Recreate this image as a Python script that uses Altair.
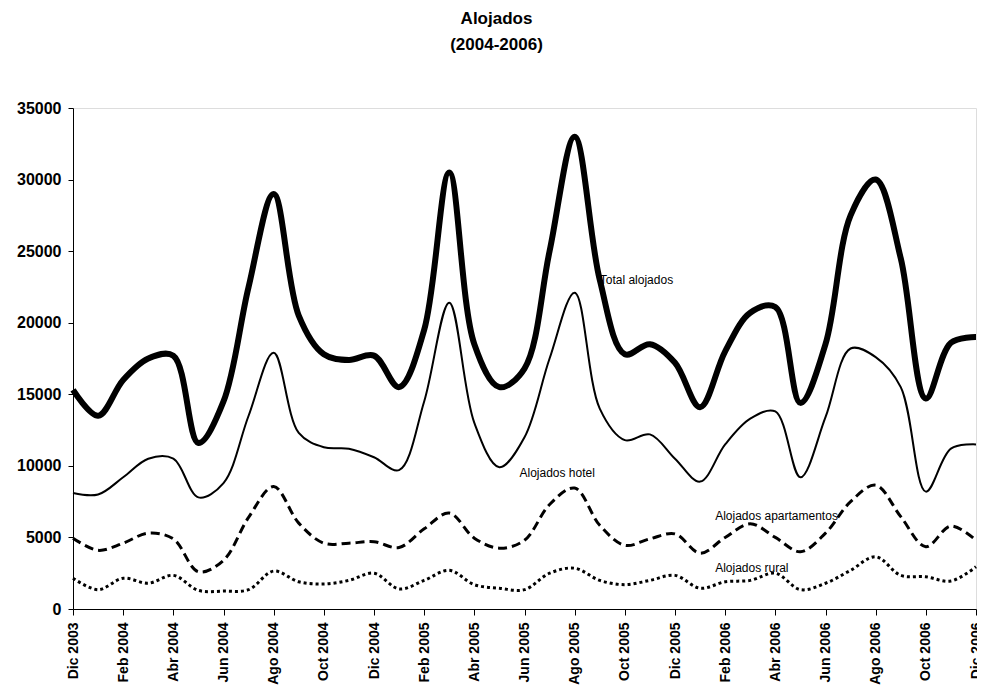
import json
import altair as alt
import pandas as pd

# Month labels (Dic 2003 .. Dic 2006)
months = [
    "Dic 2003", "Ene 2004", "Feb 2004", "Mar 2004", "Abr 2004", "May 2004", "Jun 2004",
    "Jul 2004", "Ago 2004", "Sep 2004", "Oct 2004", "Nov 2004", "Dic 2004",
    "Ene 2005", "Feb 2005", "Mar 2005", "Abr 2005", "May 2005", "Jun 2005",
    "Jul 2005", "Ago 2005", "Sep 2005", "Oct 2005", "Nov 2005", "Dic 2005",
    "Ene 2006", "Feb 2006", "Mar 2006", "Abr 2006", "May 2006", "Jun 2006",
    "Jul 2006", "Ago 2006", "Sep 2006", "Oct 2006", "Nov 2006", "Dic 2006",
]

total = [15300, 13500, 16000, 17500, 17700, 11600, 14500, 22500, 29000, 20500,
         17800, 17400, 17700, 15500, 19500, 30500, 18500, 15500, 16800, 25000,
         33000, 23000, 17800, 18500, 17200, 14100, 18000, 20700, 21100, 14400,
         18500, 27500, 30000, 24500, 14700, 18600, 19000]

hotel = [8100, 8000, 9200, 10500, 10500, 7800, 8800, 13500, 17900, 12300,
         11300, 11200, 10600, 9700, 14500, 21400, 13000, 9900, 12000, 17500,
         22100, 14000, 11800, 12200, 10500, 8900, 11500, 13300, 13800, 9200,
         13400, 18200, 17600, 15500, 8200, 11200, 11500]

apart = [4950, 4100, 4600, 5300, 4900, 2600, 3400, 6400, 8550, 6000,
         4600, 4600, 4700, 4300, 5600, 6700, 4950, 4250, 4800, 7300,
         8450, 5850, 4450, 4900, 5250, 3900, 5000, 5950, 5000, 4000,
         5300, 7500, 8650, 6450, 4350, 5800, 4800]

rural = [2150, 1350, 2150, 1800, 2350, 1300, 1250, 1350, 2650, 1900,
         1750, 2000, 2500, 1400, 2000, 2700, 1700, 1450, 1350, 2500,
         2850, 2000, 1700, 2000, 2350, 1450, 1900, 2000, 2500, 1350,
         1800, 2700, 3650, 2350, 2250, 1950, 2950]

series_names = ["Total alojados", "Alojados hotel", "Alojados apartamentos", "Alojados rural"]

# inline label anchors (month index, value)
label_text = ["Total alojados", "Alojados hotel", "Alojados apartamentos", "Alojados rural"]
label_i = [21.0, 17.8, 25.6, 25.6]
label_v = [23000, 9500, 6500, 2850]

FONT = "Liberation Sans"

series_vals = [total, hotel, apart, rural]
styles = {
    "Total alojados": dict(strokeWidth=6),
    "Alojados hotel": dict(strokeWidth=2),
    "Alojados apartamentos": dict(strokeWidth=3, strokeDash=[9, 5]),
    "Alojados rural": dict(strokeWidth=3, strokeDash=[3, 3]),
}

shown = [m if k % 2 == 0 else "" for k, m in enumerate(months)]
label_expr = json.dumps(shown) + "[datum.value]"

x_enc = alt.X(
    "i:Q",
    scale=alt.Scale(domain=[0, 36], nice=False, zero=False),
    axis=alt.Axis(
        values=list(range(37)), labelExpr=label_expr, labelAngle=270,
        labelFontSize=14, labelFontWeight="bold", labelFont=FONT, labelColor="black",
        tickColor="black", domainColor="black", tickSize=6, labelPadding=7,
        title=None, grid=False, labelOverlap=False,
    ),
)
y_enc = alt.Y(
    "valor:Q",
    scale=alt.Scale(domain=[0, 35000], nice=False),
    axis=alt.Axis(
        values=list(range(0, 35001, 5000)), format="d",
        labelFontSize=16, labelFontWeight="bold", labelFont=FONT, labelColor="black",
        tickColor="black", domainColor="black", tickSize=5, labelPadding=7,
        title=None, grid=False,
    ),
)

layers = []
for name, vals in zip(series_names, series_vals):
    d = pd.DataFrame({"i": list(range(len(vals))), "mes": months, "valor": vals})
    layers.append(
        alt.Chart(d).mark_line(color="black", interpolate="catmull-rom", **styles[name])
        .encode(x=x_enc, y=y_enc)
    )

lab = pd.DataFrame({"i": label_i, "valor": label_v, "t": label_text})
layers.append(
    alt.Chart(lab).mark_text(align="left", baseline="middle", fontSize=12, font=FONT, color="black")
    .encode(x="i:Q", y="valor:Q", text="t:N")
)

chart = alt.layer(*layers).properties(
    width=903, height=501,
    padding={"left": 65, "top": 100, "right": 1, "bottom": 79},
    autosize=alt.AutoSizeParams(type="none"),
    title=alt.TitleParams(
        text=["Alojados", "(2004-2006)"], fontSize=17, fontWeight="bold", font=FONT,
        anchor="middle", dx=-28, offset=46, lineHeight=26, color="black",
    ),
).configure_view(stroke=None).configure(background="white")

chart.save("out.html", embed_options={"renderer": "svg", "actions": False})
